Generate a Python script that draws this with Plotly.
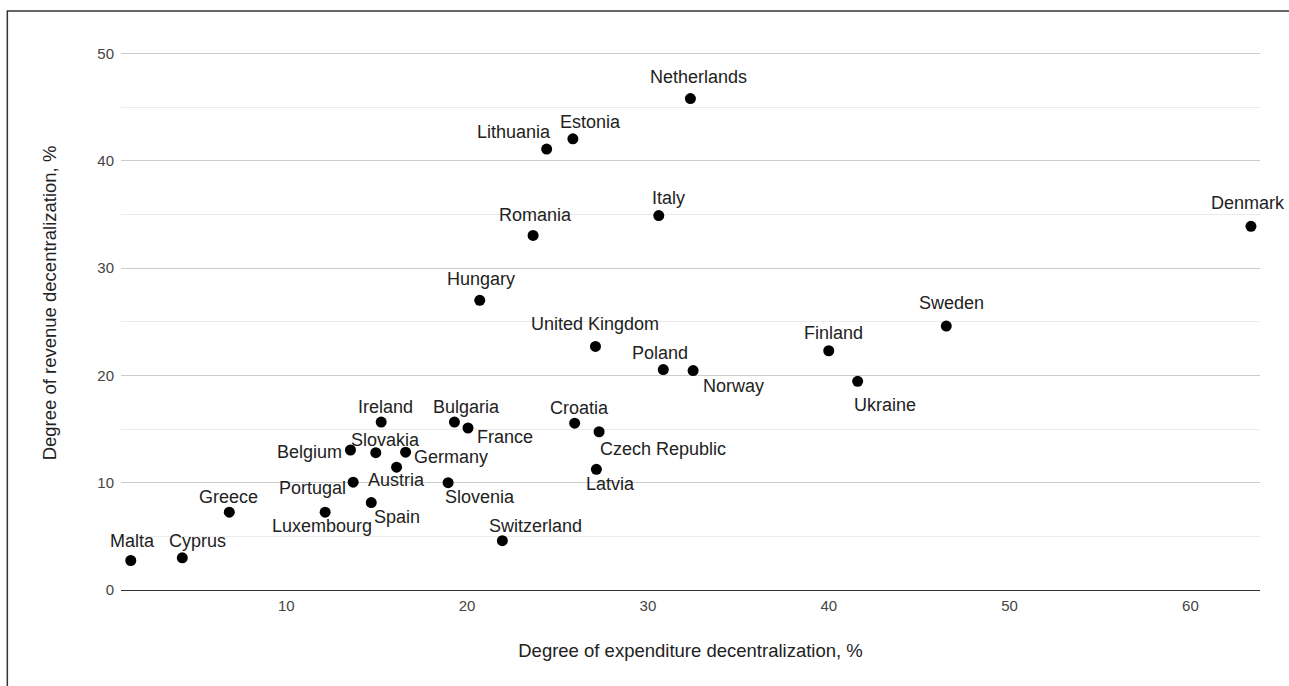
import plotly.graph_objects as go

countries = ["Malta", "Cyprus", "Greece", "Luxembourg", "Portugal", "Belgium", "Slovakia",
             "Ireland", "Spain", "Austria", "Germany", "Slovenia", "Bulgaria", "France",
             "Switzerland", "Croatia", "Czech Republic", "Latvia", "Netherlands", "Lithuania",
             "Estonia", "Italy", "Romania", "Hungary", "United Kingdom", "Poland", "Norway",
             "Finland", "Sweden", "Ukraine", "Denmark"]
expenditure = [1.4, 4.25, 6.85, 12.15, 13.7, 13.55, 14.95,
               15.25, 14.7, 16.1, 16.6, 18.95, 19.3, 20.05,
               21.95, 25.95, 27.3, 27.15, 32.35, 24.4,
               25.85, 30.6, 23.65, 20.7, 27.1, 30.85, 32.5,
               40.0, 46.5, 41.6, 63.35]
revenue = [2.75, 3.0, 7.25, 7.25, 10.05, 13.05, 12.8,
           15.65, 8.15, 11.45, 12.85, 10.0, 15.65, 15.1,
           4.6, 15.55, 14.75, 11.25, 45.8, 41.1,
           42.05, 34.9, 33.05, 27.0, 22.7, 20.55, 20.45,
           22.3, 24.6, 19.45, 33.9]

x_title = "Degree of expenditure decentralization, %"
y_title = "Degree of revenue decentralization, %"

# label offsets in pixels (dx right, dy down) relative to the marker
label_offsets = {
    "Malta": (2, -20), "Cyprus": (15, -17), "Greece": (-1, -15), "Luxembourg": (-3, 14),
    "Portugal": (-41, 6), "Belgium": (-41, 2), "Slovakia": (10, -13), "Ireland": (4, -15),
    "Spain": (26, 14), "Austria": (0, 13), "Germany": (45, 5), "Slovenia": (32, 14),
    "Bulgaria": (12, -15), "France": (37, 9), "Switzerland": (33, -15), "Croatia": (5, -15),
    "Czech Republic": (64, 17), "Latvia": (14, 15), "Netherlands": (8, -22),
    "Lithuania": (-33, -17), "Estonia": (18, -17), "Italy": (10, -18), "Romania": (2, -20),
    "Hungary": (1, -21), "United Kingdom": (0, -22), "Poland": (-3, -17), "Norway": (40, 15),
    "Finland": (5, -18), "Sweden": (5, -23), "Ukraine": (27, 24), "Denmark": (-3, -23),
}

FONT = "Liberation Sans, Arial, sans-serif"

fig = go.Figure()
fig.add_trace(go.Scatter(
    x=expenditure, y=revenue, mode="markers",
    marker=dict(color="#000000", size=11),
    text=countries, hoverinfo="text+x+y", showlegend=False,
))

for name, xv, yv in zip(countries, expenditure, revenue):
    dx, dy = label_offsets[name]
    fig.add_annotation(
        x=xv, y=yv, text=name, showarrow=False,
        xanchor="center", yanchor="middle", xshift=dx, yshift=-dy,
        font=dict(family=FONT, size=18, color="#222222"),
    )

fig.update_layout(
    width=1289, height=686,
    margin=dict(l=121, r=29, t=16, b=96),
    paper_bgcolor="white", plot_bgcolor="white",
    font=dict(family=FONT, color="#444444"),
    xaxis=dict(
        range=[0.86, 63.85], tickmode="linear", tick0=0, dtick=10,
        showgrid=False, zeroline=False, showline=False, ticks="",
        ticklabelstandoff=5,
        tickfont=dict(size=15, color="#444444"),
        title=dict(text=x_title, font=dict(size=18.5, color="#222222"), standoff=31),
        automargin=False,
    ),
    yaxis=dict(
        range=[0, 53.5], tickmode="linear", tick0=0, dtick=10,
        showgrid=True, gridcolor="#cccccc", gridwidth=1,
        minor=dict(dtick=5, showgrid=True, gridcolor="#ebebeb", gridwidth=1),
        zeroline=True, zerolinecolor="#333333", zerolinewidth=1.3,
        showline=False, ticks="", ticklabelstandoff=6,
        tickfont=dict(size=15, color="#444444"),
        title=dict(text=y_title, font=dict(size=18.5, color="#222222"), standoff=35),
        automargin=False,
    ),
    shapes=[dict(
        type="rect", xref="paper", yref="paper",
        x0=-0.0998, x1=1.05, y0=-0.25, y1=1.0087,
        line=dict(color="#333333", width=1.5), fillcolor="rgba(0,0,0,0)", layer="above",
    )],
)

fig.write_html(
    "out.html",
    config={"displayModeBar": False},
    post_script="document.body.style.margin='0px';document.body.style.overflow='hidden';",
)
